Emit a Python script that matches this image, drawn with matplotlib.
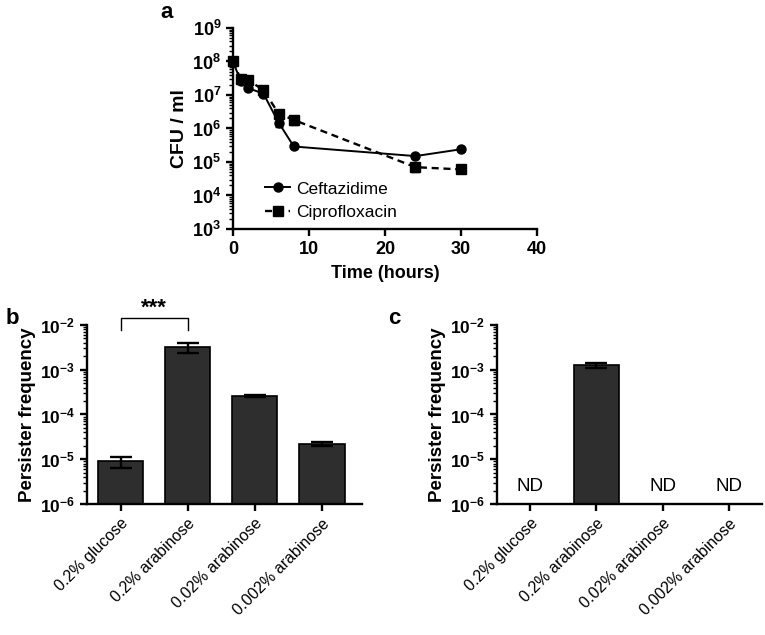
import numpy as np
import matplotlib
matplotlib.use('Agg')
from matplotlib import pyplot as plt
from matplotlib.lines import Line2D
from matplotlib.ticker import LogLocator, FuncFormatter, NullFormatter

plt.rcParams['font.family'] = ['Liberation Sans', 'DejaVu Sans']
plt.rcParams['mathtext.fontset'] = 'custom'
plt.rcParams['mathtext.rm'] = 'Liberation Sans'
plt.rcParams['mathtext.bf'] = 'Liberation Sans:bold'

# panel a: time-kill curves
time_h = [0, 1, 2, 4, 6, 8, 24, 30]
ceftazidime = [1.0e8, 2.6e7, 1.6e7, 1.1e7, 1.5e6, 2.9e5, 1.5e5, 2.4e5]
ceftazidime_err = [1.5e7, 4e6, 2e6, 1.5e6, 4e5, 3e4, 2e4, 2e4]
ciprofloxacin = [1.0e8, 3.0e7, 2.8e7, 1.4e7, 2.8e6, 1.8e6, 7.0e4, 6.0e4]
ciprofloxacin_err = [1.5e7, 4e6, 4e6, 2e6, 8e5, 5e5, 2e4, 1.2e4]

# panels b and c: persister frequencies
conditions = ['0.2% glucose', '0.2% arabinose', '0.02% arabinose', '0.002% arabinose']
freq_b = [9.0e-6, 3.2e-3, 2.6e-4, 2.2e-5]
err_b = [2.5e-6, 8e-4, 1e-5, 2.5e-6]
freq_c = [np.nan, 1.25e-3, np.nan, np.nan]
err_c = [0, 1.8e-4, 0, 0]
nd_c = [True, False, True, True]

fig = plt.figure(figsize=(7.65, 6.35), dpi=100)

def bold_pow(v, pos):
    return r'$\mathbf{10^{%d}}$' % int(round(np.log10(v)))

def style_axes(ax, fs):
    for s in ['top', 'right']:
        ax.spines[s].set_visible(False)
    for s in ['left', 'bottom']:
        ax.spines[s].set_linewidth(1.7)
    ax.tick_params(axis='both', which='major', width=1.7, length=5, labelsize=fs)
    ax.tick_params(axis='y', which='minor', width=1.0, length=3)
    ax.yaxis.set_major_locator(LogLocator(base=10, numticks=20))
    ax.yaxis.set_major_formatter(FuncFormatter(bold_pow))
    ax.yaxis.set_minor_locator(LogLocator(base=10, subs=np.arange(2, 10), numticks=20))
    ax.yaxis.set_minor_formatter(NullFormatter())

# ---- a ----
ax1 = fig.add_axes([0.3046, 0.6394, 0.3974, 0.3165])
ax1.errorbar(time_h, ceftazidime, yerr=ceftazidime_err, color='black', lw=1.4,
             marker='o', ms=6.5, capsize=3, elinewidth=1.2, clip_on=False, zorder=3)
ax1.errorbar(time_h, ciprofloxacin, yerr=ciprofloxacin_err, color='black', lw=1.7,
             ls=(0, (3, 2)), marker='s', ms=6.5, capsize=3, elinewidth=1.2,
             clip_on=False, zorder=3)
ax1.set_yscale('log')
ax1.set_ylim(1e3, 1e9)
ax1.set_xlim(0, 40)
ax1.set_xticks([0, 10, 20, 30, 40])
style_axes(ax1, 13)
for lab in ax1.get_xticklabels():
    lab.set_fontweight('bold')
ax1.set_xlabel('Time (hours)', fontsize=13, fontweight='bold', labelpad=5)
ax1.set_ylabel('CFU / ml', fontsize=14, fontweight='bold', labelpad=3)
handles = [Line2D([], [], color='black', lw=1.4, marker='o', ms=6.5),
           Line2D([], [], color='black', lw=1.7, ls=(0, (3, 2)), marker='s', ms=6.5)]
ax1.legend(handles, ['Ceftazidime', 'Ciprofloxacin'], loc='lower left',
           bbox_to_anchor=(0.055, -0.035), frameon=False, fontsize=12.5,
           handlelength=1.4, handletextpad=0.4, labelspacing=0.5)

# ---- b ----
x = np.arange(len(conditions))
ax2 = fig.add_axes([0.1137, 0.2063, 0.3595, 0.2819])
ax2.bar(x, freq_b, width=0.68, color='#2e2e2e', edgecolor='black', lw=1.2, zorder=2)
ax2.errorbar(x, freq_b, yerr=err_b, fmt='none', ecolor='black', elinewidth=1.7,
             capsize=8, capthick=1.7, zorder=3)
ax2.set_yscale('log')
ax2.set_ylim(1e-6, 1e-2)
ax2.set_xlim(-0.5, 3.6)
style_axes(ax2, 12.5)
ax2.set_xticks(x)
ax2.set_xticklabels(conditions, rotation=45, ha='right', rotation_mode='anchor', fontsize=11.5)
ax2.set_ylabel('Persister frequency', fontsize=13.5, fontweight='bold', labelpad=3)
# significance bracket
y_top, y_leg = 10 ** -1.84, 10 ** -2.11
ax2.plot([0, 0, 1, 1], [y_leg, y_top, y_top, y_leg], color='black', lw=1.0, clip_on=False)
ax2.text(0.5, 10 ** -1.62, '***', ha='center', va='center', fontsize=16, fontweight='bold')

# ---- c ----
ax3 = fig.add_axes([0.6497, 0.2063, 0.3464, 0.2819])
ax3.bar(x, freq_c, width=0.68, color='#2e2e2e', edgecolor='black', lw=1.2, zorder=2)
ax3.errorbar(x, freq_c, yerr=err_c, fmt='none', ecolor='black', elinewidth=1.7,
             capsize=8, capthick=1.7, zorder=3)
ax3.set_yscale('log')
ax3.set_ylim(1e-6, 1e-2)
ax3.set_xlim(-0.5, 3.5)
style_axes(ax3, 12.5)
ax3.set_xticks(x)
ax3.set_xticklabels(conditions, rotation=45, ha='right', rotation_mode='anchor', fontsize=11.5)
ax3.set_ylabel('Persister frequency', fontsize=13.5, fontweight='bold', labelpad=3)
for i, nd in enumerate(nd_c):
    if nd:
        ax3.text(i, 10 ** -5.62, 'ND', ha='center', va='center', fontsize=13.5)

fig.text(167 / 765, 1 - 13 / 635, 'a', fontsize=16, fontweight='bold', ha='center', va='center')
fig.text(12 / 765, 1 - 318 / 635, 'b', fontsize=16, fontweight='bold', ha='center', va='center')
fig.text(394 / 765, 1 - 318 / 635, 'c', fontsize=16, fontweight='bold', ha='center', va='center')

fig.savefig('out.png', dpi=100)
